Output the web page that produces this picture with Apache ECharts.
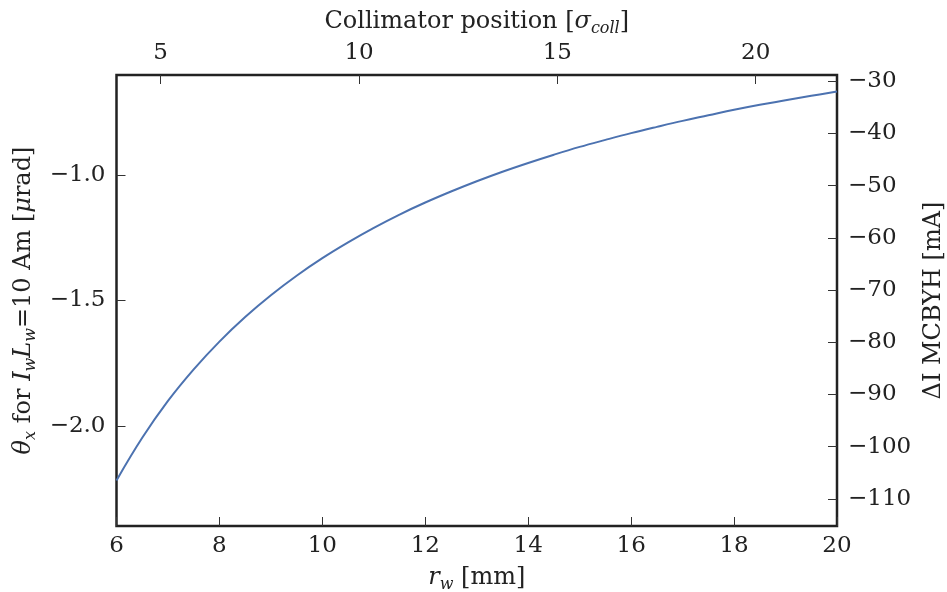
<!DOCTYPE html>
<html>
<head>
<meta charset="utf-8">
<script src="https://cdn.jsdelivr.net/npm/echarts@6/dist/echarts.min.js"></script>
<style>html,body{margin:0;padding:0;background:#fff}#c{width:947px;height:592px}</style>
</head>
<body>
<div id="c"></div>
<script>
// r_w [mm]
const rw = [6,6.5,7,7.5,8,8.5,9,9.5,10,10.5,11,11.5,12,12.5,13,13.5,14,14.5,15,15.5,16,16.5,17,17.5,18,18.5,19,19.5,20];
// theta_x [urad]
const theta = [-2.218,-2.048,-1.901,-1.775,-1.664,-1.566,-1.479,-1.401,-1.331,-1.268,-1.210,-1.157,-1.109,-1.065,-1.024,-0.986,-0.951,-0.918,-0.887,-0.859,-0.832,-0.807,-0.783,-0.761,-0.739,-0.719,-0.701,-0.683,-0.666];
const xTicks = [6,8,10,12,14,16,18,20];
const topTicks = [5,10,15,20];
const leftTicks = [-2.0,-1.5,-1.0];
const rightTicks = [-110,-100,-90,-80,-70,-60,-50,-40,-30];

const FONT = 'DejaVu Serif';
const minus = s => String(s).replace('-', '\u2212');
const tickStyle = {inside: true, length: 9, lineStyle: {color: '#333', width: 1}};
const labelBase = {fontFamily: FONT, fontSize: 23, color: '#222'};
const rich = {
  n: {fontFamily: FONT, fontSize: 24, color: '#222', lineHeight: 30},
  i: {fontFamily: FONT, fontStyle: 'italic', fontSize: 24, color: '#222', lineHeight: 30},
  s: {fontFamily: FONT, fontStyle: 'italic', fontSize: 16, color: '#222', lineHeight: 22, verticalAlign: 'bottom'}
};

const chart = echarts.init(document.getElementById('c'), null, {renderer: 'canvas'});
chart.setOption({
  animation: false,
  backgroundColor: '#fff',
  grid: {left: 116.5, right: 110, top: 75, bottom: 66, containLabel: false, outerBoundsMode: 'none',
         show: true, borderColor: '#222', borderWidth: 2.5, backgroundColor: 'transparent'},
  xAxis: [
    {type: 'value', position: 'bottom', min: 6, max: 20, interval: 2,
     axisLine: {show: false}, splitLine: {show: false},
     axisTick: Object.assign({}, tickStyle, {customValues: xTicks}),
     axisLabel: Object.assign({}, labelBase, {margin: 9, customValues: xTicks, formatter: v => minus(v)}),
     name: '{i|r}{s|w}{n| [mm]}', nameLocation: 'middle', nameGap: 37,
     nameTextStyle: {rich: rich}},
    {type: 'value', position: 'top', min: 3.886, max: 22.05,
     axisLine: {show: false}, splitLine: {show: false},
     axisTick: Object.assign({}, tickStyle, {customValues: topTicks}),
     axisLabel: Object.assign({}, labelBase, {margin: 10, customValues: topTicks, formatter: v => minus(v)}),
     name: '{n|Collimator position [}{i|\u03c3}{s|coll}{n|]}', nameLocation: 'middle', nameGap: 38,
     nameTextStyle: {rich: rich}}
  ],
  yAxis: [
    {type: 'value', position: 'left', min: -2.4, max: -0.6,
     axisLine: {show: false}, splitLine: {show: false},
     axisTick: Object.assign({}, tickStyle, {customValues: leftTicks}),
     axisLabel: Object.assign({}, labelBase, {margin: 11, customValues: leftTicks, formatter: v => minus(v.toFixed(1))}),
     name: '{i|\u03b8}{s|x}{n| for }{i|I}{s|w}{i|L}{s|w}{n|=10 Am [}{i|\u03bc}{n|rad]}', nameLocation: 'middle', nameGap: 77, nameRotate: 90,
     nameTextStyle: {rich: rich}},
    {type: 'value', position: 'right', min: -115.2, max: -28.8,
     axisLine: {show: false}, splitLine: {show: false},
     axisTick: Object.assign({}, tickStyle, {customValues: rightTicks}),
     axisLabel: Object.assign({}, labelBase, {margin: 11, customValues: rightTicks, formatter: v => minus(v)}),
     name: '{n|\u0394I MCBYH [mA]}', nameLocation: 'middle', nameGap: 77, nameRotate: 90,
     nameTextStyle: {rich: rich}}
  ],
  series: [
    {type: 'line', xAxisIndex: 0, yAxisIndex: 0, data: rw.map((r, k) => [r, theta[k]]),
     showSymbol: false, smooth: 0.4,
     lineStyle: {color: '#4c72b0', width: 2}, z: 1}
  ]
});
</script>
</body>
</html>
